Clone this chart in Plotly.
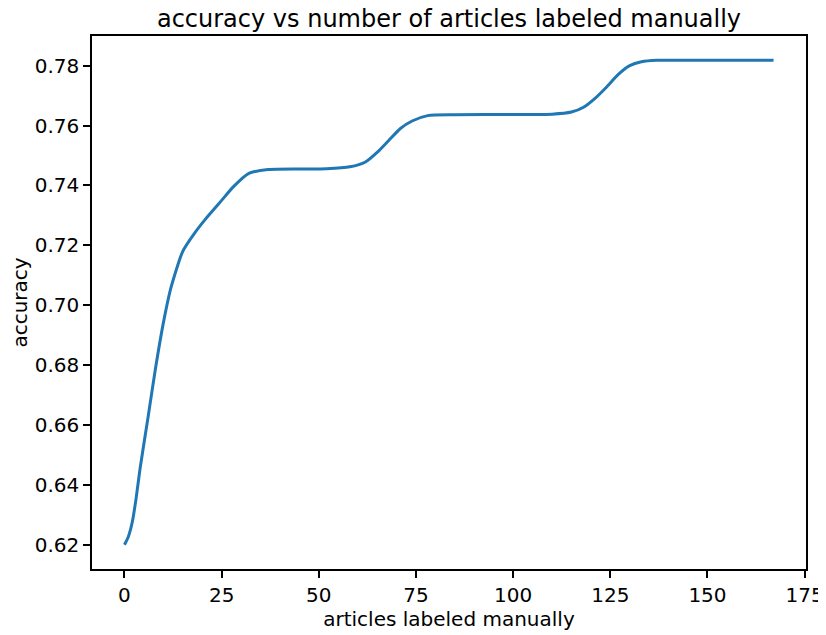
import plotly.graph_objects as go

articles = [0, 1, 2, 3, 4, 6, 8, 10, 12, 15, 18, 21, 25, 28, 32, 37, 45, 52, 58, 62, 65,
            68, 71, 74, 78, 85, 100, 110, 115, 118, 121, 124, 127, 130, 133, 137, 145, 155, 167]
accuracy = [0.6200, 0.6227, 0.6275, 0.6355, 0.6453, 0.6620, 0.6790, 0.6940, 0.7060, 0.7180,
            0.7240, 0.7290, 0.7350, 0.7395, 0.7440, 0.7453, 0.7455, 0.7456, 0.7462, 0.7478,
            0.7510, 0.7550, 0.7590, 0.7615, 0.7633, 0.7636, 0.7637, 0.7638, 0.7645, 0.7660,
            0.7690, 0.7728, 0.7770, 0.7800, 0.7813, 0.7818, 0.7818, 0.7818, 0.7818]

x_ticks = [0, 25, 50, 75, 100, 125, 150, 175]
y_ticks = [0.62, 0.64, 0.66, 0.68, 0.70, 0.72, 0.74, 0.76, 0.78]

fig = go.Figure()
fig.add_trace(go.Scatter(x=articles, y=accuracy, mode="lines",
                         line=dict(color="#1f77b4", width=3, shape="spline", smoothing=0.6),
                         showlegend=False, hoverinfo="skip"))

font = "DejaVu Sans"
xspan = max(articles) - min(articles)
yspan = max(accuracy) - min(accuracy)

axis_common = dict(showgrid=False, zeroline=False, showline=True, linecolor="black",
                   linewidth=1.6, mirror=True, ticks="outside", ticklen=7, tickwidth=1.6,
                   tickcolor="black", automargin=False,
                   tickfont=dict(family=font, size=20, color="black"))

# page body has an 8px margin, so the figure is sized to fill the rest of the window
fig.update_layout(
    width=818, height=627,
    margin=dict(l=84, r=20, t=28, b=66, autoexpand=False),
    paper_bgcolor="white", plot_bgcolor="white",
    title=dict(text="accuracy vs number of articles labeled manually",
               font=dict(family=font, size=24, color="black"),
               x=0.5, xref="paper", xanchor="center", automargin=False,
               y=1, yref="container", yanchor="top", pad=dict(t=2, b=0)),
    xaxis=dict(range=[min(articles) - 0.05 * xspan, max(articles) + 0.05 * xspan],
               tickvals=x_ticks, ticktext=[str(v) for v in x_ticks],
               title=dict(text="articles labeled manually", standoff=5,
                          font=dict(family=font, size=20, color="black")),
               **axis_common),
    yaxis=dict(range=[min(accuracy) - 0.05 * yspan, max(accuracy) + 0.05 * yspan],
               tickvals=y_ticks, ticktext=[f"{v:.2f}" for v in y_ticks],
               title=dict(text="accuracy", standoff=9,
                          font=dict(family=font, size=20, color="black")),
               **axis_common),
)

fig.write_html("out.html")
